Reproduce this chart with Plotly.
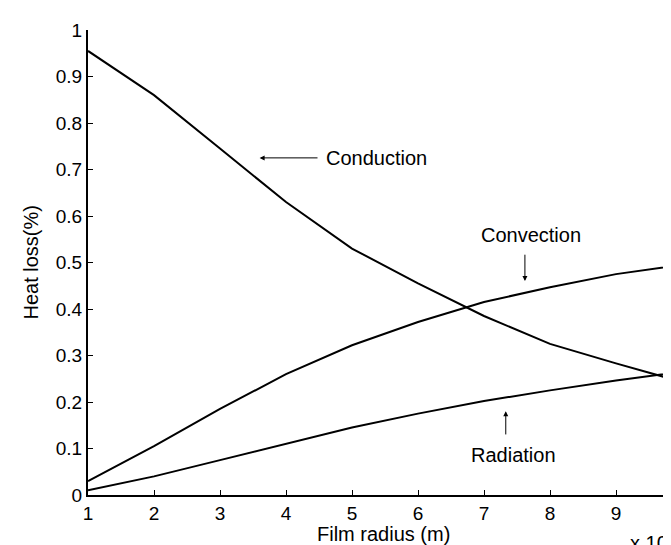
import plotly.graph_objects as go

radius = [1, 2, 3, 4, 5, 6, 7, 8, 9, 10]
conduction = [0.955, 0.860, 0.745, 0.630, 0.530, 0.455, 0.385, 0.325, 0.283, 0.243]
convection = [0.030, 0.105, 0.185, 0.260, 0.322, 0.372, 0.415, 0.447, 0.475, 0.495]
radiation = [0.010, 0.040, 0.075, 0.110, 0.145, 0.175, 0.202, 0.225, 0.246, 0.265]

x_ticks = [1, 2, 3, 4, 5, 6, 7, 8, 9]
y_ticks = [0, 0.1, 0.2, 0.3, 0.4, 0.5, 0.6, 0.7, 0.8, 0.9, 1]
y_tick_text = ["0", "0.1", "0.2", "0.3", "0.4", "0.5", "0.6", "0.7", "0.8", "0.9", "1"]

FONT = "Liberation Sans, Arial, sans-serif"
FS = 20
TFS = 19

W, H = 671, 545
L, R, T, B = 80, 0, 22, 58
pw = W - L - R
ph = H - T - B
px_per_unit = 66.0

fig = go.Figure()
for name, ys in [("Conduction", conduction), ("Convection", convection), ("Radiation", radiation)]:
    fig.add_trace(go.Scatter(x=radius, y=ys, mode="lines", name=name,
                             line=dict(color="black", width=2), showlegend=False))

arrow = dict(xref="x", yref="y", axref="x", ayref="y", text="", showarrow=True,
             arrowhead=2, arrowsize=1, arrowwidth=1, arrowcolor="black")
label = dict(xref="x", yref="y", showarrow=False,
             font=dict(size=FS, color="black", family=FONT))

annotations = [
    dict(arrow, x=3.6, y=0.725, ax=4.5, ay=0.725),
    dict(label, x=4.58, y=0.725, text="Conduction", xanchor="left", yanchor="middle"),
    dict(arrow, x=7.62, y=0.46, ax=7.62, ay=0.52),
    dict(label, x=7.71, y=0.56, text="Convection", xanchor="center", yanchor="middle"),
    dict(arrow, x=7.33, y=0.18, ax=7.33, ay=0.127),
    dict(label, x=7.44, y=0.086, text="Radiation", xanchor="center", yanchor="middle"),
    # axis titles and exponent
    dict(x=0.5, y=0, xref="paper", yref="paper", yshift=-39, text="Film radius (m)",
         showarrow=False, xanchor="center", yanchor="middle",
         font=dict(size=FS, color="black", family=FONT)),
    dict(x=0, y=0.5, xref="paper", yref="paper", xshift=-58, text="Heat loss(%)",
         textangle=-90, showarrow=False, xanchor="center", yanchor="middle",
         font=dict(size=FS, color="black", family=FONT)),
    dict(x=(620 - L) / pw, y=0, xref="paper", yref="paper", yshift=-46,
         text="x 10<sup>-4</sup>", showarrow=False, xanchor="left", yanchor="middle",
         font=dict(size=FS, color="black", family=FONT)),
]

fig.update_layout(
    width=W, height=H,
    margin=dict(l=L, r=R, t=T, b=B, autoexpand=False),
    paper_bgcolor="white", plot_bgcolor="white",
    font=dict(family=FONT, size=FS, color="black"),
    annotations=annotations,
    xaxis=dict(range=[1, 1 + pw / px_per_unit], tickvals=x_ticks,
               ticktext=[str(v) for v in x_ticks], automargin=False,
               ticks="inside", ticklen=5, tickwidth=1, tickcolor="black",
               showline=True, linecolor="black", linewidth=2, showgrid=False, zeroline=False,
               tickfont=dict(size=TFS)),
    yaxis=dict(range=[0, 1], tickvals=y_ticks, ticktext=y_tick_text, automargin=False,
               ticks="inside", ticklen=5, tickwidth=1, tickcolor="black",
               showline=True, linecolor="black", linewidth=2, showgrid=False, zeroline=False,
               tickfont=dict(size=TFS)),
)

fig.write_html("out.html")
